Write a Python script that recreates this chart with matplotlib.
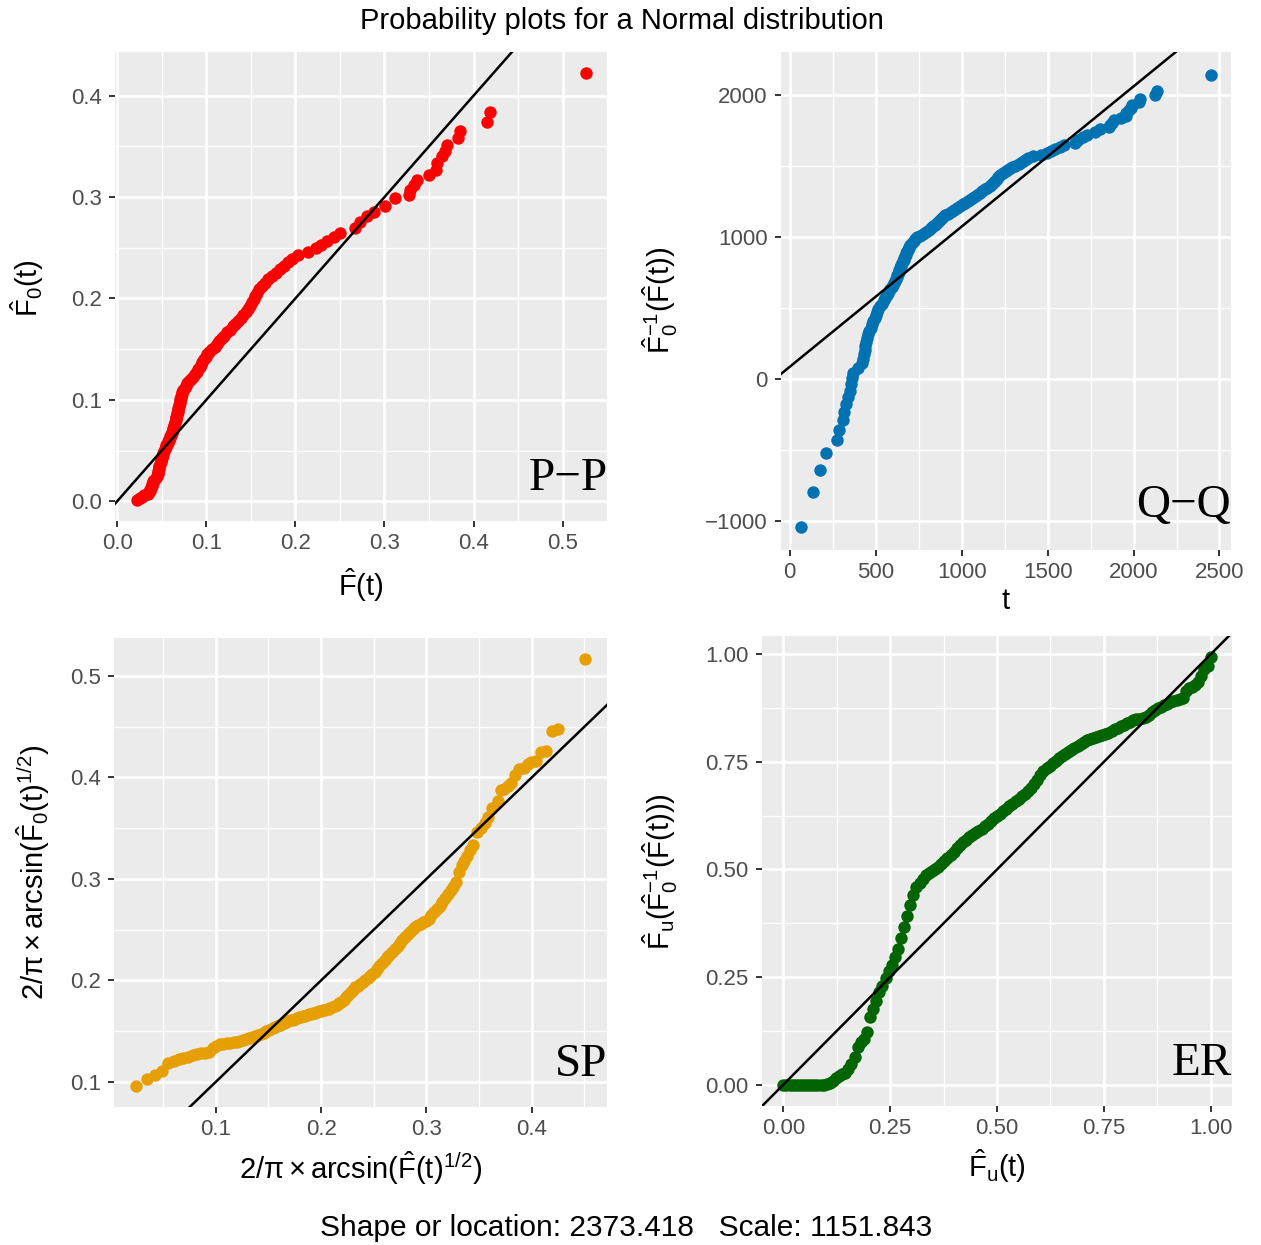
import numpy as np
import matplotlib
matplotlib.use("Agg")
import matplotlib.pyplot as plt
from matplotlib.ticker import FixedLocator, FuncFormatter
from matplotlib.transforms import blended_transform_factory
from statistics import NormalDist

plt.rcParams['font.family'] = ['Liberation Sans', 'DejaVu Sans']
plt.rcParams['mathtext.fontset'] = 'custom'
plt.rcParams['mathtext.rm'] = 'Liberation Sans'
plt.rcParams['mathtext.it'] = 'Liberation Sans:italic'
plt.rcParams['mathtext.bf'] = 'Liberation Sans:bold'

# Fitted normal distribution
location = 2373.418
scale = 1151.843

# Observed failure times (sorted)
times = np.array([
    68, 136, 173, 208, 272, 289, 307, 318, 326, 340, 349, 355, 362, 368,
    398, 418, 427, 431, 435, 438, 442, 448, 455, 463, 471, 479, 486, 494,
    500, 507, 516, 526, 535,
    548, 556, 564, 571, 578, 586, 593, 599, 605, 610, 616, 621, 625, 629,
    634, 638, 642, 646, 650, 654, 658, 662, 666, 670, 674, 677, 682, 686,
    691, 696,
    701, 709, 720, 731, 741, 759, 777, 795, 809, 823, 835, 846, 857, 868,
    880, 893, 906, 919, 938, 956, 973, 989, 1005, 1021, 1038, 1056, 1073,
    1089, 1105, 1121, 1136, 1150, 1163, 1177, 1186, 1195, 1203, 1211, 1222,
    1239, 1256, 1273, 1291, 1310, 1331, 1352, 1370, 1388, 1414, 1463, 1497,
    1518, 1543, 1573, 1597,
    1658, 1678, 1704, 1730, 1773, 1807, 1858, 1864, 1876, 1888, 1929, 1955,
    1958, 1975, 1986, 1992, 2031, 2036, 2127, 2136, 2448,
], dtype=float)

# Fitted-model quantiles at the empirical probabilities, F0^-1(F_hat(t))
model_quantiles = np.array([
    -1047, -800, -640, -522, -433, -357, -289, -235, -176, -129, -82, -35, 5, 40,
    76, 110, 143, 174, 204, 233, 261, 288, 314, 339, 363, 386, 409, 431,
    452, 473, 493, 513, 532,
    557, 573, 589, 604, 619, 634, 648, 662, 676, 690, 704, 717, 730, 743,
    756, 769, 782, 794, 806, 818, 830, 842, 854, 866, 878, 889, 900, 911,
    922, 933,
    946, 958, 973, 984, 999, 1011, 1024, 1036, 1050, 1063, 1077, 1088, 1102,
    1115, 1129, 1140, 1154, 1167, 1181, 1192, 1206, 1219, 1233, 1244, 1258,
    1271, 1285, 1296, 1310, 1323, 1337, 1348, 1362, 1375, 1389, 1400, 1414,
    1427, 1441, 1452, 1466, 1479, 1493, 1504, 1518, 1531, 1545, 1556, 1570,
    1583, 1597, 1608, 1622, 1636, 1650,
    1667, 1688, 1705, 1721, 1739, 1765, 1776, 1793, 1809, 1825, 1841, 1857,
    1879, 1899, 1914, 1934, 1955, 1977, 2004, 2032, 2147,
], dtype=float)

# Reference line in the Q-Q panel
qq_intercept = 86.0
qq_slope = 0.989

dist = NormalDist(location, scale)
F_model = np.array([dist.cdf(v) for v in times])
F_emp = np.array([dist.cdf(v) for v in model_quantiles])

n = len(times)
ranks = np.arange(n) / (n - 1)
er_x = ranks
er_y = np.interp(model_quantiles, times, ranks)

sp_x = 2 / np.pi * np.arcsin(np.sqrt(F_emp))
sp_y = 2 / np.pi * np.arcsin(np.sqrt(F_model))

W, H = 1261, 1245
fig = plt.figure(figsize=(W / 100, H / 100), dpi=100)
fig.patch.set_facecolor('white')


def add_panel(left, right, top, bottom):
    return fig.add_axes([left / W, 1 - bottom / H, (right - left) / W, (bottom - top) / H])


def padded(v):
    lo, hi = float(np.min(v)), float(np.max(v))
    r = hi - lo
    return lo - 0.05 * r, hi + 0.05 * r


def fmt(decimals):
    return FuncFormatter(lambda v, p: f"{v:.{decimals}f}".replace('-', '\u2212'))


def style(ax, xmaj, xmin, ymaj, ymin, xdec, ydec):
    ax.set_facecolor('#EBEBEB')
    for s in ax.spines.values():
        s.set_visible(False)
    ax.set_axisbelow(True)
    ax.xaxis.set_major_locator(FixedLocator(xmaj))
    ax.xaxis.set_minor_locator(FixedLocator(xmin))
    ax.yaxis.set_major_locator(FixedLocator(ymaj))
    ax.yaxis.set_minor_locator(FixedLocator(ymin))
    ax.xaxis.set_major_formatter(fmt(xdec))
    ax.yaxis.set_major_formatter(fmt(ydec))
    ax.grid(which='major', color='white', linewidth=1.9)
    ax.grid(which='minor', color='white', linewidth=1.0)
    ax.tick_params(which='major', length=4.5, width=1.4, color='#333333',
                   labelsize=16, labelcolor='#4D4D4D')
    ax.tick_params(axis='x', which='major', pad=4)
    ax.tick_params(axis='y', which='major', pad=5)
    ax.tick_params(which='minor', length=0)


def tag(ax, text, ymin):
    tr = blended_transform_factory(ax.transAxes, ax.transData)
    ax.text(1.0, ymin, text, transform=tr, ha='right', va='bottom',
            family='Liberation Serif', fontsize=34, color='black')


pt_size = 80
line_kw = dict(color='black', linewidth=1.8)

# P-P panel
ax1 = add_panel(115, 608, 52, 521)
ax1.scatter(F_model, F_emp, s=pt_size, color='#FF0000', linewidths=0, zorder=3)
ax1.axline((0, 0), slope=1, zorder=4, **line_kw)
ax1.set_xlim(*padded(F_model))
ax1.set_ylim(*padded(F_emp))
style(ax1, np.arange(0, 0.51, 0.1), np.arange(-0.05, 0.6, 0.1),
      np.arange(0, 0.41, 0.1), np.arange(-0.05, 0.5, 0.1), 1, 1)
tag(ax1, 'P\u2212P', F_emp.min())

# Q-Q panel
ax2 = add_panel(781, 1231, 52, 550)
ax2.scatter(times, model_quantiles, s=pt_size, color='#0072B2', linewidths=0, zorder=3)
ax2.axline((0, qq_intercept), slope=qq_slope, zorder=4, **line_kw)
ax2.set_xlim(*padded(times))
ax2.set_ylim(*padded(model_quantiles))
style(ax2, np.arange(0, 2501, 500), np.arange(-250, 2800, 500),
      np.arange(-1000, 2001, 1000), np.arange(-1500, 2600, 1000), 0, 0)
tag(ax2, 'Q\u2212Q', model_quantiles.min())

# Stabilized probability panel
ax3 = add_panel(114, 607, 638, 1107)
ax3.scatter(sp_x, sp_y, s=pt_size, color='#E69F00', linewidths=0, zorder=3)
ax3.axline((0, 0), slope=1, zorder=4, **line_kw)
ax3.set_xlim(*padded(sp_x))
ax3.set_ylim(*padded(sp_y))
style(ax3, np.arange(0.1, 0.41, 0.1), np.arange(0.05, 0.5, 0.1),
      np.arange(0.1, 0.51, 0.1), np.arange(0.05, 0.6, 0.1), 1, 1)
tag(ax3, 'SP', sp_y.min())

# Empirically rescaled panel
ax4 = add_panel(762, 1232, 636, 1106)
ax4.scatter(er_x, er_y, s=pt_size, color='#006400', linewidths=0, zorder=3)
ax4.axline((0, 0), slope=1, zorder=4, **line_kw)
ax4.set_xlim(*padded(er_x))
ax4.set_ylim(*padded(er_y))
style(ax4, np.arange(0, 1.01, 0.25), np.arange(0.125, 1.0, 0.25),
      np.arange(0, 1.01, 0.25), np.arange(0.125, 1.0, 0.25), 2, 2)
tag(ax4, 'ER', er_y.min())

# Axis titles
lab = dict(fontsize=21, color='black', ha='center', va='center')
F = r'\hat{\mathrm{F}}'
fig.text(361 / W, 1 - 585 / H, rf'${F}\mathrm{{(t)}}$', **lab)
fig.text(27 / W, 1 - 288 / H, rf'${F}_{{\mathrm{{0}}}}\mathrm{{(t)}}$', rotation=90, **lab)
fig.text(1006 / W, 1 - 601 / H, 't', **lab)
fig.text(660 / W, 1 - 300 / H,
         rf'${F}_{{\mathrm{{0}}}}^{{\mathrm{{-1}}}}\mathrm{{(}}{F}\mathrm{{(t))}}$',
         rotation=90, **lab)
fig.text(361 / W, 1 - 1168 / H,
         rf'$\mathrm{{2/π}}\times\mathrm{{arcsin(}}{F}\mathrm{{(t)}}^{{\mathrm{{1/2}}}}\mathrm{{)}}$',
         **lab)
fig.text(33 / W, 1 - 872 / H,
         rf'$\mathrm{{2/π}}\times\mathrm{{arcsin(}}{F}_{{\mathrm{{0}}}}\mathrm{{(t)}}^{{\mathrm{{1/2}}}}\mathrm{{)}}$',
         rotation=90, **lab)
fig.text(997 / W, 1 - 1166 / H, rf'${F}_{{\mathrm{{u}}}}\mathrm{{(t)}}$', **lab)
fig.text(660 / W, 1 - 872 / H,
         rf'${F}_{{\mathrm{{u}}}}\mathrm{{(}}{F}_{{\mathrm{{0}}}}^{{\mathrm{{-1}}}}\mathrm{{(}}{F}\mathrm{{(t)))}}$',
         rotation=90, **lab)

fig.text(622 / W, 1 - 21 / H, 'Probability plots for a Normal distribution',
         fontsize=21, ha='center', va='center')
fig.text(626 / W, 1 - 1228 / H,
         f'Shape or location: {location:.3f}   Scale: {scale:.3f}',
         fontsize=21.5, ha='center', va='center')

fig.savefig('out.png', dpi=100)
